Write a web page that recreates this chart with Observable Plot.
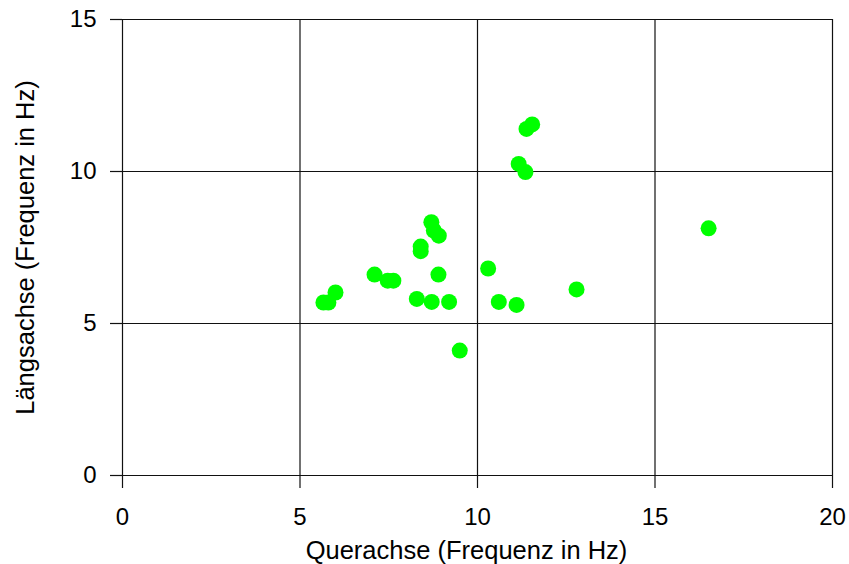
<!DOCTYPE html>
<html>
<head>
<meta charset="utf-8">
<script src="https://cdn.jsdelivr.net/npm/d3@7"></script>
<script src="https://cdn.jsdelivr.net/npm/@observablehq/plot@0.6"></script>
<style>
  html, body { margin: 0; padding: 0; background: #fff; }
  #chart svg { display: block; }
</style>
</head>
<body>
<div id="chart"></div>
<script>
// Data
const querachse = [5.66, 5.80, 6.00, 7.10, 7.47, 7.63, 8.40, 8.40, 8.70, 8.77, 8.91, 8.90, 8.29, 8.71, 9.20, 9.50, 10.30, 10.60, 11.10, 11.38, 11.54, 11.16, 11.35, 12.79, 16.51];
const laengsachse = [5.69, 5.69, 6.02, 6.61, 6.41, 6.41, 7.53, 7.38, 8.33, 8.06, 7.89, 6.61, 5.81, 5.71, 5.71, 4.11, 6.81, 5.71, 5.61, 11.40, 11.55, 10.25, 9.98, 6.12, 8.13];
const xTicks = [0, 5, 10, 15, 20];
const yTicks = [0, 5, 10, 15];
const xTitle = "Querachse (Frequenz in Hz)";
const yTitle = "Längsachse (Frequenz in Hz)";

const points = querachse.map((q, i) => ({q, l: laengsachse[i]}));

const font = "Liberation Sans, Arial, sans-serif";
const lineColor = "#111";

const chart = Plot.plot({
  width: 849,
  height: 564,
  marginLeft: 122,
  marginRight: 17,
  marginTop: 19,
  marginBottom: 89,
  style: {fontFamily: font, background: "#fff", color: "#000"},
  x: {domain: [0, 20]},
  y: {domain: [0, 15]},
  marks: [
    Plot.gridX(xTicks.filter(d => d > 0), {stroke: lineColor, strokeOpacity: 1, strokeWidth: 1.2}),
    Plot.gridY(yTicks.filter(d => d > 0), {stroke: lineColor, strokeOpacity: 1, strokeWidth: 1.2}),
    Plot.ruleX([0], {stroke: lineColor, strokeWidth: 1.2}),
    Plot.ruleY([0], {stroke: lineColor, strokeWidth: 1.2}),
    Plot.axisX(xTicks, {tickSize: 13, tickPadding: 19, fontSize: 24, label: null, stroke: lineColor, strokeWidth: 1.2, fill: "#000"}),
    Plot.axisY(yTicks, {tickSize: 12, tickPadding: 14, fontSize: 24, label: null, stroke: lineColor, strokeWidth: 1.2, fill: "#000"}),
    Plot.dot(points, {x: "q", y: "l", r: 8, fill: "#00ff00", stroke: null}),
    Plot.text([xTitle], {frameAnchor: "bottom", textAnchor: "middle", dx: -11, dy: 75, lineAnchor: "middle", fontSize: 25.5, fill: "#000"}),
    Plot.text([yTitle], {frameAnchor: "left", textAnchor: "middle", dx: -97, rotate: -90, lineAnchor: "middle", fontSize: 25.5, fill: "#000"})
  ]
});
document.getElementById("chart").appendChild(chart);
</script>
</body>
</html>
